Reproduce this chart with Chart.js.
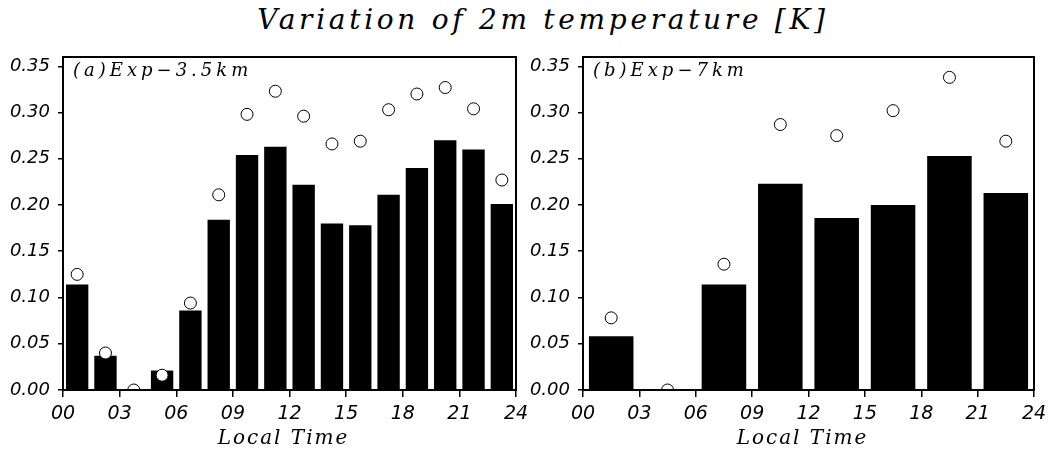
<!DOCTYPE html>
<html>
<head>
<meta charset="utf-8">
<script src="https://cdn.jsdelivr.net/npm/chart.js@4"></script>
<style>
  body { margin: 0; background: #fff; }
  #wrap { position: relative; width: 1054px; height: 450px; overflow: hidden; }
  #titulo {
    position: absolute; top: 3px; left: 16px; width: 1054px; text-align: center;
    font: italic 28px "DejaVu Serif"; letter-spacing: 3.7px; color: #000; line-height: 34px;
  }
  canvas { position: absolute; top: 0; }
</style>
</head>
<body>
<div id="wrap">
  <div id="titulo">Variation of 2m temperature [K]</div>
  <canvas id="panelA" width="527" height="450" style="left:0"></canvas>
  <canvas id="panelB" width="527" height="450" style="left:527px"></canvas>
</div>
<script>
// horas locales (centro de cada barra)
const horasA = [0.75, 2.25, 3.75, 5.25, 6.75, 8.25, 9.75, 11.25, 12.75, 14.25, 15.75, 17.25, 18.75, 20.25, 21.75, 23.25];
const barrasA = [0.114, 0.037, 0, 0.021, 0.086, 0.184, 0.254, 0.263, 0.222, 0.180, 0.178, 0.211, 0.240, 0.270, 0.260, 0.201];
const puntosA = [0.125, 0.040, 0, 0.016, 0.094, 0.211, 0.298, 0.323, 0.296, 0.266, 0.269, 0.303, 0.320, 0.327, 0.304, 0.227];

const horasB = [1.5, 4.5, 7.5, 10.5, 13.5, 16.5, 19.5, 22.5];
const barrasB = [0.058, 0, 0.114, 0.223, 0.186, 0.200, 0.253, 0.213];
const puntosB = [0.078, 0, 0.136, 0.287, 0.275, 0.302, 0.338, 0.269];

const etiquetasX = ['00', '03', '06', '09', '12', '15', '18', '21', '24'];
const etiquetasY = ['0.00', '0.05', '0.10', '0.15', '0.20', '0.25', '0.30', '0.35'];

const fuenteTicks = { family: 'DejaVu Sans', style: 'italic', size: 18 };

// caja, etiqueta del panel y "Local Time"
const cajaPlugin = {
  id: 'caja',
  afterDraw(chart, args, opts) {
    const { ctx, chartArea: a } = chart;
    ctx.save();
    ctx.strokeStyle = '#000';
    ctx.lineWidth = 2;
    ctx.strokeRect(a.left, a.top, a.right - a.left, a.bottom - a.top);
    ctx.fillStyle = '#000';
    ctx.textBaseline = 'alphabetic';
    ctx.font = 'italic 18px "DejaVu Serif"';
    ctx.letterSpacing = '4px';
    ctx.textAlign = 'left';
    ctx.fillText(opts.texto, a.left + 10, a.top + 19);
    ctx.font = 'italic 20px "DejaVu Serif"';
    ctx.letterSpacing = '2px';
    ctx.textAlign = 'center';
    ctx.fillText('Local Time', (a.left + a.right) / 2 - 6, 444);
    ctx.restore();
  }
};

function crearPanel(id, horas, barras, puntos, texto, padIzq, anchoY, padDer) {
  return new Chart(document.getElementById(id), {
    type: 'bar',
    data: {
      datasets: [
        {
          type: 'line',
          data: horas.map((h, i) => ({ x: h, y: puntos[i] })),
          showLine: false,
          pointRadius: 6,
          pointBackgroundColor: '#fff',
          pointBorderColor: '#000',
          pointBorderWidth: 1,
          clip: 0,
          order: 0
        },
        {
          type: 'bar',
          data: horas.map((h, i) => ({ x: h, y: barras[i] })),
          backgroundColor: '#000',
          barPercentage: 0.79,
          categoryPercentage: 1,
          order: 1
        }
      ]
    },
    options: {
      responsive: false,
      animation: false,
      layout: { padding: { left: padIzq, right: padDer, top: 57, bottom: 0 } },
      plugins: {
        legend: { display: false },
        tooltip: { enabled: false },
        caja: { texto: texto }
      },
      scales: {
        x: {
          type: 'linear',
          min: 0, max: 24,
          offset: false,
          grid: { offset: false, drawOnChartArea: false, tickLength: 7, color: '#000', lineWidth: 1.5 },
          border: { color: '#000', width: 2 },
          ticks: {
            stepSize: 3, padding: 6, color: '#000',
            font: { family: 'DejaVu Sans', style: 'italic', size: 19 }, maxRotation: 0,
            callback: v => etiquetasX[v / 3]
          },
          afterFit: s => { s.height = 60; s.paddingLeft = 0; s.paddingRight = 0; }
        },
        y: {
          min: 0, max: 0.36,
          grid: { drawOnChartArea: false, tickLength: 5, color: '#000', lineWidth: 1.5 },
          border: { color: '#000', width: 2 },
          ticks: {
            stepSize: 0.05, includeBounds: false, padding: 8, color: '#000', font: fuenteTicks,
            callback: v => etiquetasY[Math.round(v / 0.05)]
          },
          afterFit: s => { s.width = anchoY; s.paddingTop = 0; s.paddingBottom = 0; }
        }
      }
    },
    plugins: [cajaPlugin]
  });
}

crearPanel('panelA', horasA, barrasA, puntosA, '(a)Exp\u22123.5km', 0, 63, 11);
crearPanel('panelB', horasB, barrasB, puntosB, '(b)Exp\u22127km', 0, 56, 20);
</script>
</body>
</html>
